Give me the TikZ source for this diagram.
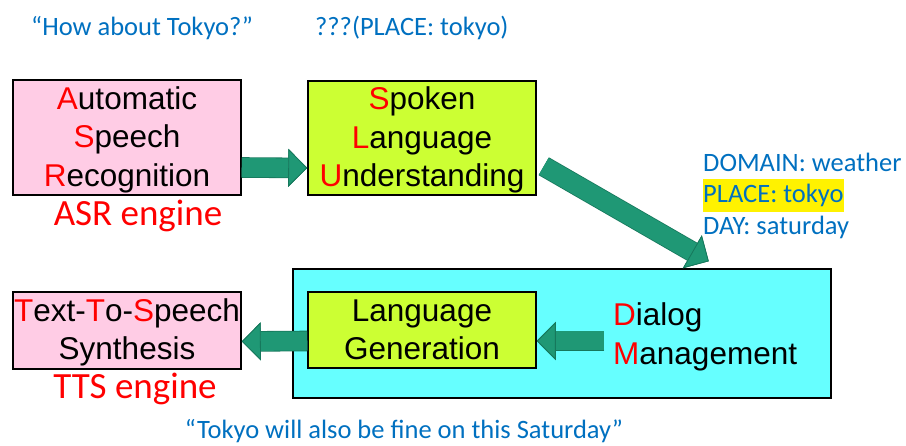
\documentclass[tikz,border=0pt]{standalone}
\usepackage{fontspec}
\setmainfont{Liberation Sans}
\newfontfamily\calibri{Carlito}
\usetikzlibrary{arrows.meta}

\definecolor{asrpink}{RGB}{255,204,229}
\definecolor{slugreen}{RGB}{204,255,51}
\definecolor{dmcyan}{RGB}{102,255,255}
\definecolor{noteblue}{RGB}{0,112,192}
\definecolor{flowfill}{RGB}{31,152,117}
\definecolor{flowedge}{RGB}{22,120,92}

% red initial letter of a module name
\newcommand{\ini}[1]{\textcolor{red}{#1}}

\begin{document}
\begin{tikzpicture}[x=1pt, y=1pt,
    box/.style={draw, line width=1.5pt, minimum width=228pt, inner sep=0pt, align=center,
      font=\fontsize{31.5}{38.5}\selectfont},
    note/.style={anchor=base west, inner sep=0pt, text=noteblue,
      font=\calibri\fontsize{26.5}{31}\selectfont},
    engine/.style={anchor=base, inner sep=0pt, text=red,
      font=\calibri\fontsize{37}{43}\selectfont},
    flow/.style={draw=flowfill, line width=19pt,
      preaction={draw=flowedge, line width=20.6pt,
        -{Triangle[length=19pt, width=38pt, line width=0.8pt, color=flowedge]}},
      -{Triangle[length=19pt, width=38pt, line width=0.8pt, fill=flowfill, color=flowedge]}}]
  \useasboundingbox (0,0) rectangle (906,446);

  % upper row: recognition and understanding
  \node[box, fill=asrpink, minimum height=115pt] (asr) at (127,308.5)
    {\rule{0pt}{27pt}\ini{A}utomatic\\\ini{S}peech\\\ini{R}ecognition};
  \node[box, fill=slugreen, minimum height=114pt] (slu) at (422,308)
    {\rule{0pt}{27pt}\ini{S}poken\\\ini{L}anguage\\\ini{U}nderstanding};
  \node[engine] (asrlabel) at (138,220) {ASR engine};

  % lower row: dialog manager with generation inside, then synthesis
  \node[box, fill=dmcyan, minimum width=538pt, minimum height=129pt] (dm) at (562,112.5) {};
  \node[box, fill=slugreen, minimum height=76pt] (lg) at (422,116)
    {Language\\Generation};
  \node[inner sep=0pt, anchor=west, align=left, font=\fontsize{31.5}{38.5}\selectfont]
    (dmtext) at (613,109) {\ini{D}ialog\\\ini{M}anagement};
  \node[box, fill=asrpink, minimum height=77pt] (tts) at (127,115.5)
    {\rule{0pt}{27pt}\ini{T}ext-\ini{T}o-\ini{S}peech\\Synthesis};
  \node[engine] (ttslabel) at (135,47) {TTS engine};

  % utterances and semantic frame
  \node[note] (query) at (31,410) {“How about Tokyo?”};
  \node[note] (guess) at (315,410) {???(PLACE: tokyo)};
  \node[note] (domain) at (703,274) {DOMAIN: weather};
  \node[note, fill=yellow, inner xsep=0.5pt, text height=24pt, text depth=9pt] (place)
    at (702.5,243) {PLACE: tokyo};
  \node[note] (day) at (703,211) {DAY: saturday};
  \node[note, anchor=base] (reply) at (404,7) {“Tokyo will also be fine on this Saturday”};

  % block arrows
  \coordinate (sluout) at ([shift={(7,29.5)}]slu.south east);
  \coordinate (dmin) at ([shift={(-123,7)}]dm.north east);
  \draw[flow] ([yshift=-30pt]asr.east) -- ([yshift=-30pt]slu.west);
  \draw[flow] (sluout) -- (dmin);
  \draw[flow] ([xshift=-9pt, yshift=-4pt]dmtext.west) -- ([yshift=-11pt]lg.east);
  \draw[flow] ([yshift=-11pt]lg.west) -- ([yshift=-11pt]tts.east);
\end{tikzpicture}
\end{document}
